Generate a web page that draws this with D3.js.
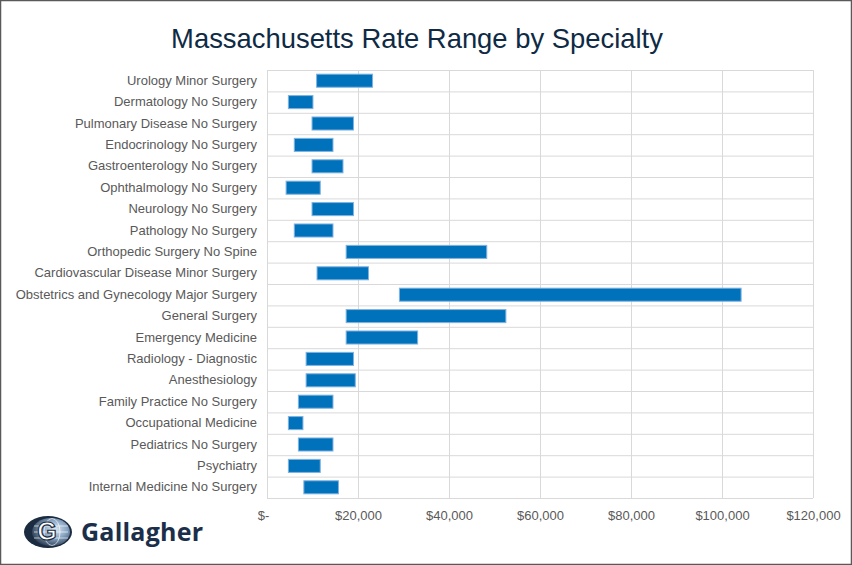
<!DOCTYPE html>
<html>
<head>
<meta charset="utf-8">
<script src="https://cdn.jsdelivr.net/npm/d3@7"></script>
<style>
  body { margin: 0; background: #fff; }
  text { font-family: "Liberation Sans", Arial, sans-serif; }
</style>
</head>
<body>
<div id="chart"></div>
<script>
// categories top to bottom
const specialties = [
  "Urology Minor Surgery", "Dermatology No Surgery", "Pulmonary Disease No Surgery",
  "Endocrinology No Surgery", "Gastroenterology No Surgery", "Ophthalmology No Surgery",
  "Neurology No Surgery", "Pathology No Surgery", "Orthopedic Surgery No Spine",
  "Cardiovascular Disease Minor Surgery", "Obstetrics and Gynecology Major Surgery",
  "General Surgery", "Emergency Medicine", "Radiology - Diagnostic", "Anesthesiology",
  "Family Practice No Surgery", "Occupational Medicine", "Pediatrics No Surgery",
  "Psychiatry", "Internal Medicine No Surgery"
];
// low and high end of the rate range
const rateLow  = [10900, 4700, 9900, 6000, 9900, 4200, 9900, 6000, 17400, 11000,
                  29100, 17400, 17400, 8600, 8600, 6900, 4700, 6900, 4700, 8100];
const rateHigh = [23200, 10100, 19000, 14500, 16700, 11700, 19000, 14500, 48300, 22300,
                  104200, 52500, 33100, 19000, 19400, 14500, 7900, 14500, 11700, 15700];
const xTicks = [0, 20000, 40000, 60000, 80000, 100000, 120000];

const W = 852, H = 565;
const margin = { top: 70, right: 39, bottom: 67, left: 267 };
const width = W - margin.left - margin.right,
      height = H - margin.top - margin.bottom;

const root = d3.select("#chart").append("svg")
  .attr("width", W).attr("height", H);

// outer frame
root.append("rect")
  .attr("x", 0.5).attr("y", 0.5)
  .attr("width", W - 1).attr("height", H - 1)
  .attr("fill", "#fff").attr("stroke", "#595959").attr("stroke-width", 1.5);

root.append("text")
  .attr("x", 417).attr("y", 48)
  .attr("text-anchor", "middle")
  .attr("fill", "#0e2a44")
  .style("font-size", "27.4px")
  .text("Massachusetts Rate Range by Specialty");

const svg = root.append("g")
  .attr("transform", `translate(${margin.left},${margin.top})`);

const x = d3.scaleLinear().domain([0, 120000]).range([0, width]);
const y = d3.scaleBand().domain(specialties).range([0, height]).paddingInner(0).paddingOuter(0);

// horizontal grid (band edges)
svg.selectAll(".hgrid")
  .data(d3.range(specialties.length + 1))
  .join("line")
    .attr("x1", 0).attr("x2", width)
    .attr("y1", i => i * y.step() + 0.5).attr("y2", i => i * y.step() + 0.5)
    .attr("stroke", "#d9d9d9");

// vertical grid
svg.selectAll(".vgrid")
  .data(xTicks)
  .join("line")
    .attr("x1", d => Math.round(x(d)) + 0.5).attr("x2", d => Math.round(x(d)) + 0.5)
    .attr("y1", 0).attr("y2", height)
    .attr("stroke", "#d9d9d9");

// bars
const barH = y.bandwidth() * 0.61;
svg.selectAll(".bar")
  .data(specialties)
  .join("rect")
    .attr("x", (d, i) => x(rateLow[i]))
    .attr("width", (d, i) => x(rateHigh[i]) - x(rateLow[i]))
    .attr("y", d => y(d) + (y.bandwidth() - barH) / 2)
    .attr("height", barH)
    .attr("fill", "#0071bb")
    .attr("stroke", "#7fb2e0")
    .attr("stroke-width", 1);

// x axis
const xAxis = svg.append("g")
  .attr("transform", `translate(0,${height})`)
  .call(d3.axisBottom(x).tickValues(xTicks).tickSize(0).tickPadding(13)
    .tickFormat(d => d === 0 ? "$-" : "$" + d3.format(",")(d)));
xAxis.select(".domain").remove();
xAxis.selectAll("text")
  .attr("fill", "#595959")
  .style("font-size", "13px")
  .style("font-family", "'Liberation Sans', Arial, sans-serif");
xAxis.select(".tick text").attr("dx", "-4");

// y axis
const yAxis = svg.append("g")
  .call(d3.axisLeft(y).tickSize(0).tickPadding(10));
yAxis.select(".domain").remove();
yAxis.selectAll("text")
  .attr("fill", "#595959")
  .style("font-size", "13px")
  .style("font-family", "'Liberation Sans', Arial, sans-serif");

// Gallagher logo
const logo = root.append("g").attr("transform", "translate(48,532)");
const defs = root.append("defs");
const grad = defs.append("radialGradient").attr("id", "globe")
  .attr("cx", "60%").attr("cy", "40%").attr("r", "70%");
grad.append("stop").attr("offset", "0%").attr("stop-color", "#dfe9f3");
grad.append("stop").attr("offset", "45%").attr("stop-color", "#8aa6c4");
grad.append("stop").attr("offset", "100%").attr("stop-color", "#1a2a3f");
logo.append("ellipse").attr("rx", 24).attr("ry", 16).attr("fill", "#1b2b40");
logo.append("ellipse").attr("cx", 3).attr("rx", 19).attr("ry", 14).attr("fill", "url(#globe)");
[-6, 0, 6].forEach(dy => logo.append("line")
  .attr("x1", -14).attr("x2", 20).attr("y1", dy).attr("y2", dy)
  .attr("stroke", "#ffffff").attr("stroke-width", 0.8).attr("opacity", 0.8));
logo.append("ellipse").attr("cx", 4).attr("rx", 8).attr("ry", 13.5)
  .attr("fill", "none").attr("stroke", "#fff").attr("stroke-width", 0.8).attr("opacity", 0.8);
logo.append("text").attr("x", -1).attr("y", 8)
  .attr("text-anchor", "middle")
  .attr("fill", "#ffffff").attr("stroke", "#1b2b40").attr("stroke-width", 1.2)
  .style("font-size", "25px").style("font-weight", "bold")
  .text("G");
root.append("text")
  .attr("x", 81).attr("y", 541)
  .attr("fill", "#1c2f4a")
  .style("font-size", "25px").style("font-weight", "bold")
  .style("font-family", "'Open Sans', sans-serif")
  .attr("textLength", 122)
  .text("Gallagher");
</script>
</body>
</html>
